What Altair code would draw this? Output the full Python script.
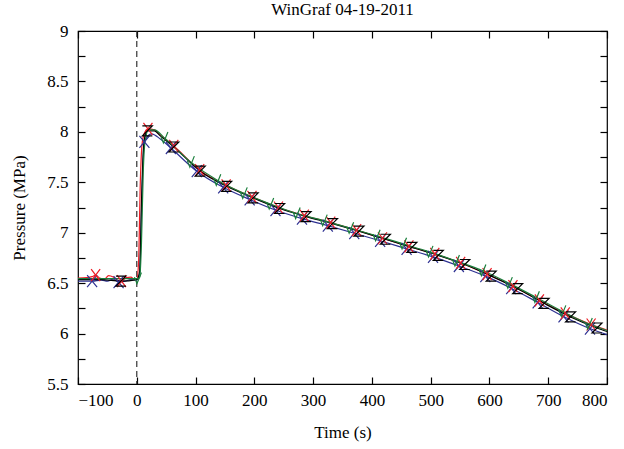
import altair as alt
import pandas as pd

# ---------------- data ----------------
black_t = [-100, -60, -27, 0, 5, 8, 11, 14, 18, 30, 40, 63, 108, 153, 198, 243, 288, 333,
           378, 423, 468, 513, 558, 603, 648, 693, 738, 783, 800]
black_v = [6.535, 6.535, 6.52, 6.535, 6.62, 7.3, 7.8, 7.96, 8.01, 8.01, 7.96, 7.85, 7.61, 7.46,
           7.345, 7.24, 7.16, 7.09, 7.015, 6.935, 6.855, 6.775, 6.685, 6.57, 6.445, 6.30,
           6.165, 6.055, 6.02]
black_marks = [-27, 18, 63, 108, 153, 198, 243, 288, 333, 378, 423, 468, 513, 558, 603,
               648, 693, 738, 783]

blue_t = [-100, -76, -60, -50, -40, -31, -20, -10, 0, 5, 8, 11, 13, 25, 40, 58, 102, 147,
          192, 236, 281, 325, 370, 414, 459, 504, 548, 593, 637, 682, 726, 771, 800]
blue_v = [6.52, 6.52, 6.53, 6.52, 6.54, 6.51, 6.52, 6.535, 6.53, 6.6, 7.2, 7.75, 7.9, 7.98,
          7.93, 7.84, 7.61, 7.45, 7.33, 7.225, 7.14, 7.07, 6.995, 6.92, 6.84, 6.76, 6.67,
          6.57, 6.45, 6.31, 6.17, 6.05, 5.99]
blue_marks = [-76, -31, 13, 58, 102, 147, 192, 236, 281, 325, 370, 414, 459, 504, 548, 593,
              637, 682, 726, 771]

red_t = [-100, -85, -76, -70, -63, -55, -48, -40, -33, -26, -18, -10, -4, 0, 3, 6, 9, 12, 19,
         30, 40, 63, 107, 152, 196, 241, 285, 330, 374, 418, 463, 507, 551, 596, 640, 685,
         729, 773, 800]
red_v = [6.55, 6.555, 6.565, 6.58, 6.55, 6.54, 6.575, 6.56, 6.53, 6.52, 6.555, 6.56, 6.54,
         6.54, 6.7, 7.5, 7.88, 7.97, 8.03, 8.02, 7.97, 7.86, 7.62, 7.47, 7.355, 7.25, 7.17,
         7.10, 7.025, 6.945, 6.865, 6.79, 6.70, 6.59, 6.47, 6.33, 6.20, 6.09, 6.035]
red_marks = [-70, -26, 19, 63, 107, 152, 196, 241, 285, 330, 374, 418, 463, 507, 551, 596,
             640, 685, 729, 773]

green_t = [-100, -50, 2, 5, 8, 11, 14, 20, 30, 47, 92, 137, 182, 227, 272, 318, 363, 408,
           453, 498, 543, 588, 633, 679, 724, 769, 800]
green_v = [6.545, 6.545, 6.545, 6.56, 6.9, 7.6, 7.9, 8.02, 8.02, 7.94, 7.70, 7.52, 7.39,
           7.285, 7.19, 7.12, 7.045, 6.97, 6.89, 6.81, 6.72, 6.625, 6.50, 6.36, 6.22, 6.095,
           6.03]
green_marks = [2, 47, 92, 137, 182, 227, 272, 318, 363, 408, 453, 498, 543, 588, 633, 679,
               724, 769]

x_ticks = [-100, 0, 100, 200, 300, 400, 500, 600, 700, 800]
y_labels = [5.5, 6, 6.5, 7, 7.5, 8, 8.5, 9]
y_ticks = [5.5, 5.75, 6, 6.25, 6.5, 6.75, 7, 7.25, 7.5, 7.75, 8, 8.25, 8.5, 8.75, 9]

series_names = ["blue", "red", "black", "green"]
series_colors = ["#2e3192", "#ed1c24", "#000000", "#1a7f3c"]
series_shapes = [
    "M-1,-1.2L1,1.2M-1,1.2L1,-1.2",          # x
    "M-0.9,-1.2L0.9,1.2M-0.9,1.2L0.9,-1.2",  # x
    "M-1,-1L1,-1L-1,1L1,1",                  # Z
    "M-0.7,-0.3L-0.2,1L0.7,-1.2",            # check / V
]

# ---------------- tables ----------------
data = {"blue": (blue_t, blue_v, blue_marks), "red": (red_t, red_v, red_marks),
        "black": (black_t, black_v, black_marks), "green": (green_t, green_v, green_marks)}
rows = []
for name, (ts, vs, mk) in data.items():
    for t, v in zip(ts, vs):
        rows.append({"series": name, "t": t, "v": v, "mark": t in mk})
df = pd.DataFrame(rows)
df_marks = df[df["mark"]]

W, H = 529, 353
FONT = "Liberation Serif"
FS = 17

xs = alt.Scale(domain=[-100, 800], nice=False, zero=False)
ys = alt.Scale(domain=[5.5, 9], nice=False, zero=False)
cs = alt.Scale(domain=series_names, range=series_colors)
ss = alt.Scale(domain=series_names, range=series_shapes)

no_x = alt.X("t:Q", scale=xs, axis=None)
no_y = alt.Y("v:Q", scale=ys, axis=None)

lines = alt.Chart(df).mark_line(strokeWidth=1.2, interpolate="monotone").encode(
    x=no_x, y=no_y,
    color=alt.Color("series:N", scale=cs, legend=None),
    detail="series:N",
    order=alt.Order("t:Q"),
)

marks = alt.Chart(df_marks).mark_point(filled=False, size=100, strokeWidth=1.2, opacity=1).encode(
    x=no_x, y=no_y,
    color=alt.Color("series:N", scale=cs, legend=None),
    shape=alt.Shape("series:N", scale=ss, legend=None),
)

zero = alt.Chart(pd.DataFrame({"t": [0]})).mark_rule(
    color="#333333", strokeDash=[6, 4], strokeWidth=1.2).encode(x=no_x)

ghost = alt.Chart(df[df["series"] == "black"])

txt = dict(labelFont=FONT, labelFontSize=FS, labelColor="black",
           titleFont=FONT, titleFontSize=FS, titleFontWeight="normal", titleColor="black")

label_layer = ghost.mark_line(opacity=0).encode(
    x=alt.X("t:Q", scale=xs, title="Time (s)",
            axis=alt.Axis(orient="bottom", values=x_ticks, ticks=False, domain=False,
                          labelPadding=8, titlePadding=16, grid=False, **txt)),
    y=alt.Y("v:Q", scale=ys, title="Pressure (MPa)",
            axis=alt.Axis(orient="left", values=y_labels, ticks=False, domain=False,
                          labelPadding=10, titlePadding=18, grid=False, format="~g", **txt)),
)

tick_bottom = ghost.mark_line(opacity=0).encode(
    x=alt.X("t:Q", scale=xs, title=None,
            axis=alt.Axis(orient="top", offset=-H, values=x_ticks, labels=False,
                          domain=False, tickSize=7, grid=False)),
    y=no_y,
)
tick_top = ghost.mark_line(opacity=0).encode(
    x=alt.X("t:Q", scale=xs, title=None,
            axis=alt.Axis(orient="bottom", offset=-H, values=x_ticks, labels=False,
                          domain=False, tickSize=7, grid=False)),
    y=no_y,
)
tick_left = ghost.mark_line(opacity=0).encode(
    x=no_x,
    y=alt.Y("v:Q", scale=ys, title=None,
            axis=alt.Axis(orient="right", offset=-W, values=y_ticks, labels=False,
                          domain=False, tickSize=7, grid=False)),
)
tick_right = ghost.mark_line(opacity=0).encode(
    x=no_x,
    y=alt.Y("v:Q", scale=ys, title=None,
            axis=alt.Axis(orient="left", offset=-W, values=y_ticks, labels=False,
                          domain=False, tickSize=7, grid=False)),
)

chart = alt.layer(
    zero, lines, marks, label_layer, tick_bottom, tick_top, tick_left, tick_right
).resolve_axis(x="independent", y="independent").properties(
    width=W, height=H,
    title=alt.Title("WinGraf 04-19-2011", font=FONT, fontSize=FS, fontWeight="normal",
                    color="black", anchor="middle", offset=3),
    autosize=alt.AutoSizeParams(type="none"),
    padding={"left": 78, "top": 31, "right": 17, "bottom": 65},
    background="white",
).configure_view(
    stroke="black", strokeWidth=1.2
).configure_axis(
    tickColor="black", tickWidth=1.2, **txt
)

chart.save("out.html", embed_options={"renderer": "svg", "actions": False})
